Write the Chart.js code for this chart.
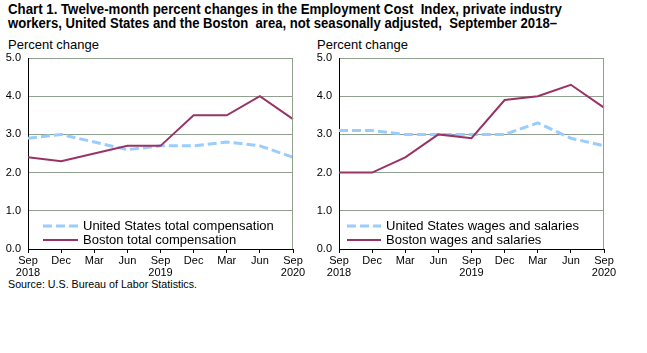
<!DOCTYPE html>
<html>
<head>
<meta charset="utf-8">
<script src="https://cdn.jsdelivr.net/npm/chart.js@4"></script>
<style>
  html, body { margin: 0; padding: 0; background: #fff; }
  body { width: 647px; height: 353px; position: relative; overflow: hidden; font-family: 'Liberation Sans', Arial, sans-serif; color: #000; }
  .txt { position: absolute; white-space: pre; transform-origin: 0 50%; line-height: 1; }
  .title { font-weight: bold; font-size: 14px; }
  .lab { font-size: 13px; }
  .src { font-size: 11px; }
  canvas { position: absolute; }
</style>
</head>
<body>
<div class="txt title" id="t1" data-w="554" style="left:8px; top:2px;">Chart 1. Twelve-month percent changes in the Employment Cost  Index, private industry</div>
<div class="txt title" id="t2" data-w="549" style="left:8px; top:16px;">workers, United States and the Boston  area, not seasonally adjusted,  September 2018–</div>
<div class="txt lab" data-w="91" style="left:8px; top:38px;">Percent change</div>
<div class="txt lab" data-w="91" style="left:317px; top:38px;">Percent change</div>
<div class="txt src" data-w="189" style="left:8px; top:279px;">Source: U.S. Bureau of Labor Statistics.</div>
<div style="position:absolute; left:0; top:40px; width:320px; height:240px;"><canvas id="c1"></canvas></div>
<div style="position:absolute; left:311px; top:40px; width:320px; height:240px;"><canvas id="c2"></canvas></div>
<script>
// ---- data ----
const xLabels = [['Sep', '2018'], 'Dec', 'Mar', 'Jun', ['Sep', '2019'], 'Dec', 'Mar', 'Jun', ['Sep', '2020']];
const usTotal = [2.9, 3.0, 2.8, 2.6, 2.7, 2.7, 2.8, 2.7, 2.4];
const bostonTotal = [2.4, 2.3, 2.5, 2.7, 2.7, 3.5, 3.5, 4.0, 3.4];
const usWages = [3.1, 3.1, 3.0, 3.0, 3.0, 3.0, 3.3, 2.9, 2.7];
const bostonWages = [2.0, 2.0, 2.4, 3.0, 2.9, 3.9, 4.0, 4.3, 3.7];
const yMin = 0, yMax = 5, yStep = 1;
const leftNames = ['United States total compensation', 'Boston total compensation'];
const rightNames = ['United States wages and salaries', 'Boston wages and salaries'];

// fit html text widths
document.querySelectorAll('.txt').forEach(el => {
  const w = el.getBoundingClientRect().width;
  const target = parseFloat(el.dataset.w);
  if (w > 0) el.style.transform = 'scaleX(' + (target / w) + ')';
});

const FONT = "'Liberation Sans', Arial, sans-serif";
Chart.defaults.font.family = FONT;
Chart.defaults.color = '#000';

const BOSTON = '#993366';
const US = '#99ccff';
const GRID = '#8fa08f';

const innerPlugin = {
  id: 'inner',
  afterDatasetsDraw(chart, args, opts) {
    const { ctx, chartArea: a } = chart;
    ctx.save();
    // right border
    ctx.strokeStyle = GRID;
    ctx.lineWidth = 1;
    ctx.beginPath();
    ctx.moveTo(a.right - 0.5, a.top);
    ctx.lineTo(a.right - 0.5, a.bottom);
    ctx.stroke();
    // legend
    const ds = chart.data.datasets;
    const x0 = a.left + opts.dx, x1 = x0 + opts.len;
    const ys = [opts.y0, opts.y0 + 14];
    ds.forEach((d, i) => {
      const y = ys[i] - chart.canvas.getBoundingClientRect().top;
      ctx.strokeStyle = d.borderColor;
      ctx.lineWidth = d.borderWidth;
      ctx.setLineDash(d.borderDash || []);
      ctx.beginPath();
      ctx.moveTo(x0, y);
      ctx.lineTo(x1, y);
      ctx.stroke();
      ctx.setLineDash([]);
      ctx.fillStyle = '#000';
      ctx.font = '13px ' + FONT;
      ctx.textBaseline = 'middle';
      ctx.fillText(d.label, x1 + opts.gap, y + 0.5);
    });
    ctx.restore();
  }
};

function makeChart(id, usData, bosData, names, legendOpts) {
  return new Chart(document.getElementById(id), {
    type: 'line',
    data: {
      labels: xLabels,
      datasets: [
        { label: names[0], data: usData, borderColor: US, borderWidth: 3, borderDash: [9, 4], pointRadius: 0, tension: 0, order: 1, fill: false },
        { label: names[1], data: bosData, borderColor: BOSTON, borderWidth: 2, pointRadius: 0, tension: 0, order: 0, fill: false }
      ]
    },
    plugins: [innerPlugin],
    options: {
      responsive: true,
      maintainAspectRatio: false,
      animation: false,
      layout: { padding: { left: 0, right: 27, top: 18, bottom: 0 } },
      plugins: {
        legend: { display: false },
        tooltip: { enabled: false },
        title: { display: false },
        inner: legendOpts
      },
      scales: {
        x: {
          offset: false,
          grid: { display: true, drawOnChartArea: false, drawTicks: true, tickLength: 4, color: '#000', tickColor: '#000' },
          border: { display: true, color: '#000', width: 1 },
          ticks: { font: { size: 11, lineHeight: 1.1 }, padding: 2, maxRotation: 0, autoSkip: false, color: '#000' },
          afterFit(scale) { scale.height = 31; }
        },
        y: {
          min: yMin, max: yMax,
          grid: { color: GRID, drawTicks: false, lineWidth: 1 },
          border: { display: true, color: '#000', width: 1 },
          ticks: { stepSize: yStep, font: { size: 11 }, padding: 7, color: '#000', callback: v => v.toFixed(1) },
          afterFit(scale) { scale.width = 28; }
        }
      }
    }
  });
}

makeChart('c1', usTotal, bostonTotal, leftNames, { dx: 15, len: 35, gap: 5, y0: 226 });
makeChart('c2', usWages, bostonWages, rightNames, { dx: 8, len: 34, gap: 5, y0: 226 });
</script>
</body>
</html>
